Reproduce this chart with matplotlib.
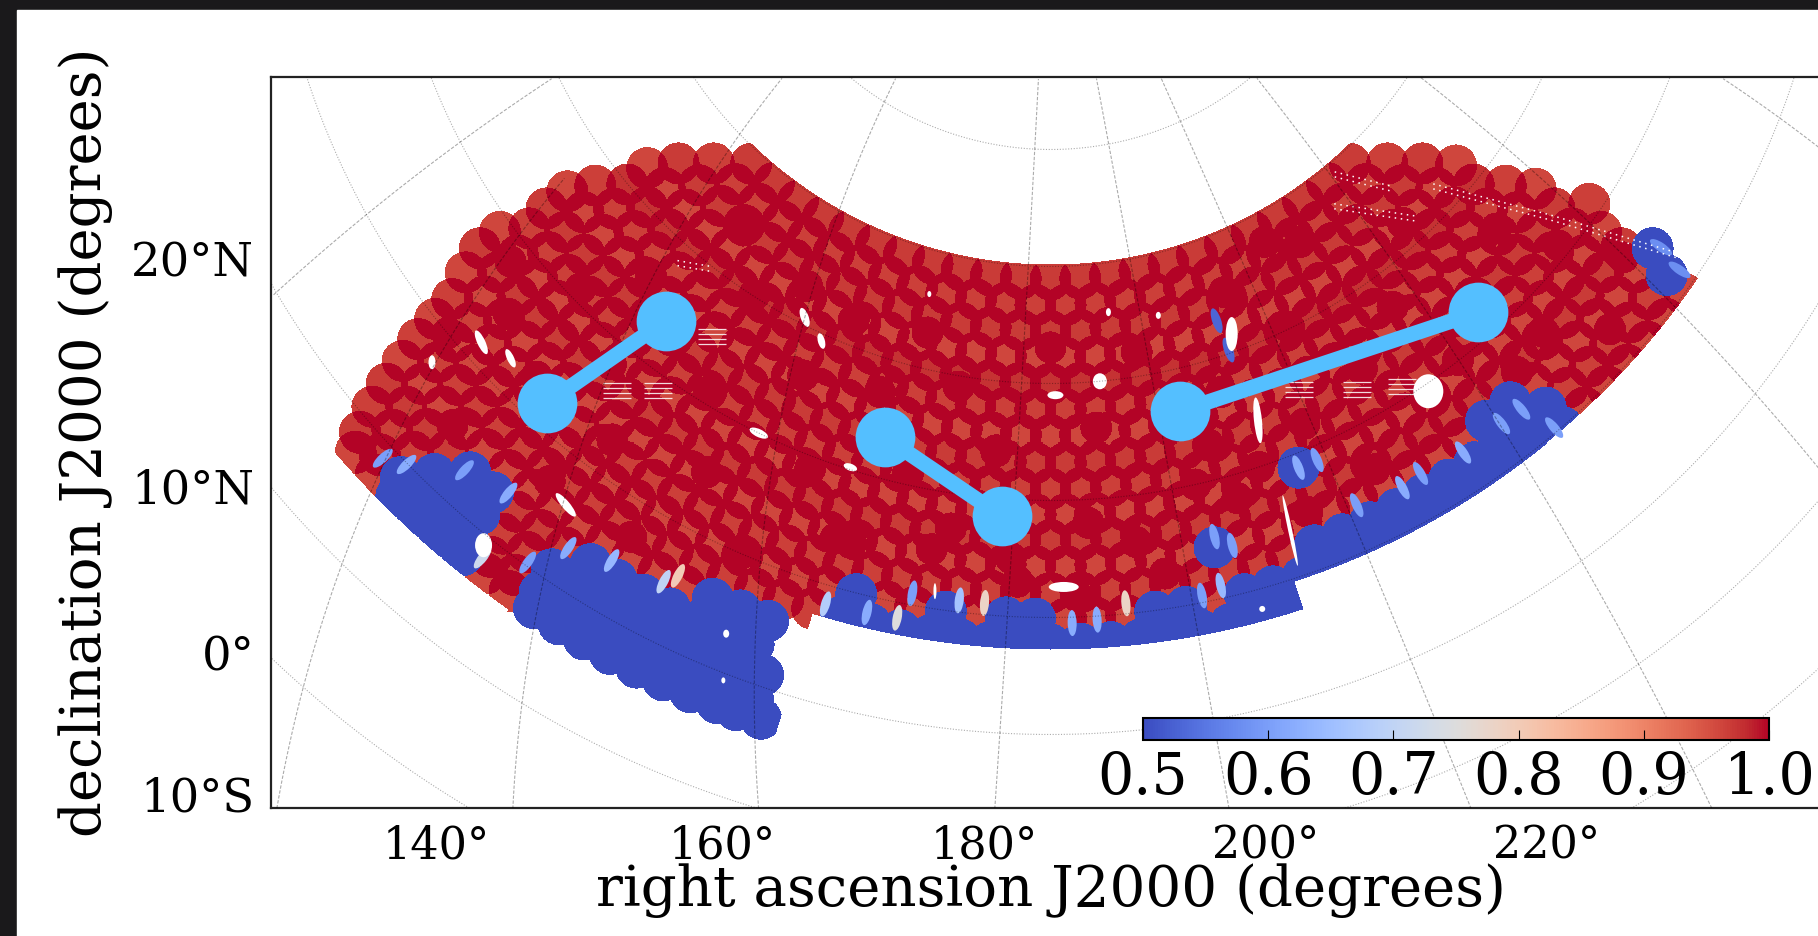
import numpy as np
import matplotlib
matplotlib.use('Agg')
import matplotlib.pyplot as plt
from matplotlib.patches import Ellipse, Rectangle

plt.rcParams['font.family'] = ['DejaVu Serif']

# survey plates, one list of ra per row of constant declination
row_dec = [58.8, 56.6, 54.4, 52.1, 49.9, 47.7, 45.5, 43.2, 41.0, 38.8,
           36.6, 34.4, 32.1, 29.9, 27.7, 25.5, 23.2, 21.0, 18.8, 17.4]
row_level = [0.97, 0.965, 0.97, 0.96, 0.975, 0.965, 0.96, 0.97, 0.965, 0.96,
             0.97, 0.96, 0.965, 0.96, 0.965, 0.96, 0.97, 0.965, 0.97, 0.96]
row_ra = [
    [117.9, 124, 130.1, 136.2, 142.3, 148.4, 154.5, 160.6, 166.7, 172.8, 178.9, 185, 191.1, 197.2, 203.3, 209.4,
     215.5, 221.6, 227.7, 233.8, 239.9, 246, 252.1],
    [112.5, 118.3, 124.1, 129.9, 135.7, 141.5, 147.3, 153.1, 158.9, 164.7, 170.5, 176.3, 182.1, 187.9, 193.7, 199.5,
     205.3, 211.1, 216.9, 222.7, 228.5, 234.3, 240.1, 245.9, 251.7, 257.5],
    [108, 113.5, 119, 124.5, 130, 135.5, 141, 146.5, 152, 157.5, 163, 168.5, 174, 179.5, 185, 190.5, 196, 201.5, 207,
     212.5, 218, 223.5, 229, 234.5, 240, 245.5, 251, 256.5, 262],
    [105, 109.6, 114.8, 120, 125.2, 130.4, 135.6, 140.8, 146, 151.2, 156.4, 161.6, 166.8, 172, 177.2, 182.4, 187.6,
     192.8, 198, 203.2, 208.4, 213.6, 218.8, 224, 229.2, 234.4, 239.6, 244.8, 250, 255.2, 260.4, 265.6],
    [105, 110, 115, 120, 125, 130, 135, 140, 145, 150, 155, 160, 165, 170, 175, 180, 185, 190, 195, 200, 205, 210,
     215, 220, 225, 230, 235, 240, 245, 250, 255, 260, 265],
    [101.9, 106.6, 111.4, 116.1, 120.9, 125.6, 130.4, 135.1, 139.9, 144.6, 149.4, 154.1, 158.9, 163.6, 168.4, 173.1,
     177.9, 182.6, 187.4, 192.1, 196.9, 201.6, 206.4, 211.1, 215.9, 220.6, 225.4, 230.1, 234.9, 239.6, 244.4, 249.1,
     253.9, 258.6, 263.4, 268.1],
    [100, 104, 108.5, 113, 117.5, 122, 126.5, 131, 135.5, 140, 144.5, 149, 153.5, 158, 162.5, 167, 171.5, 176, 180.5,
     185, 189.5, 194, 198.5, 203, 207.5, 212, 216.5, 221, 225.5, 230, 234.5, 239, 243.5, 248, 252.5, 257, 261.5, 266,
     270.5],
    [100.2, 104.5, 108.9, 113.2, 117.6, 121.9, 126.3, 130.6, 135, 139.3, 143.7, 148, 152.4, 156.7, 161.1, 165.4,
     169.8, 174.1, 178.5, 182.8, 187.2, 191.5, 195.9, 200.2, 204.6, 208.9, 213.3, 217.6, 222, 226.3, 230.7, 235,
     239.4, 243.7, 248.1, 252.4, 256.8, 261.1, 265.5, 269.8],
    [101, 105.2, 109.4, 113.6, 117.8, 122, 126.2, 130.4, 134.6, 138.8, 143, 147.2, 151.4, 155.6, 159.8, 164, 168.2,
     172.4, 176.6, 180.8, 185, 189.2, 193.4, 197.6, 201.8, 206, 210.2, 214.4, 218.6, 222.8, 227, 231.2, 235.4, 239.6,
     243.8, 248, 252.2, 256.4, 260.6, 264.8, 269, 273.2],
    [99, 103, 107, 111, 115, 119, 123, 127, 131, 135, 139, 143, 147, 151, 155, 159, 163, 167, 171, 175, 179, 183,
     187, 191, 195, 199, 203, 207, 211, 215, 219, 223, 227, 231, 235, 239, 243, 247, 251, 255, 259, 263, 267, 271],
    [99.2, 103.1, 107, 110.9, 114.8, 118.7, 122.6, 126.5, 130.4, 134.3, 138.2, 142.1, 146, 149.9, 153.8, 157.7,
     161.6, 165.5, 169.4, 173.3, 177.2, 181.1, 185, 188.9, 192.8, 196.7, 200.6, 204.5, 208.4, 212.3, 216.2, 220.1,
     224, 227.9, 231.8, 235.7, 239.6, 243.5, 247.4, 251.3, 255.2, 259.1, 263, 266.9, 270.8],
    [100.6, 104.4, 108.1, 111.9, 115.6, 119.4, 123.1, 126.9, 130.6, 134.4, 138.1, 141.9, 145.6, 149.4, 153.1, 156.9,
     160.6, 164.4, 168.1, 171.9, 175.6, 179.4, 183.1, 186.9, 190.6, 194.4, 198.1, 201.9, 205.6, 209.4, 213.1, 216.9,
     220.6, 224.4, 228.1, 231.9, 235.6, 239.4, 243.1, 246.9, 250.6, 254.4, 258.1, 261.9, 265.6, 269.4, 273.1],
    [102.2, 105.8, 109.4, 113, 116.6, 120.2, 123.8, 127.4, 131, 134.6, 138.2, 141.8, 145.4, 149, 152.6, 156.2, 159.8,
     163.4, 167, 170.6, 174.2, 177.8, 181.4, 185, 188.6, 192.2, 195.8, 199.4, 203, 206.6, 210.2, 213.8, 217.4, 221,
     224.6, 228.2, 231.8, 235.4, 239, 242.6, 246.2, 249.8, 253.4, 257, 260.6, 264.2, 267.8, 271.4],
    [102.8, 106.2, 109.8, 113.2, 116.8, 120.2, 123.8, 127.2, 130.8, 134.2, 137.8, 141.2, 144.8, 148.2, 151.8, 155.2,
     158.8, 162.2, 165.8, 169.2, 172.8, 176.2, 179.8, 183.2, 186.8, 190.2, 193.8, 197.2, 200.8, 204.2, 207.8, 211.2,
     214.8, 218.2, 221.8, 225.2, 228.8, 232.2, 235.8, 239.2, 242.8, 246.2, 249.8, 253.2, 256.8, 260.2, 263.8, 267.2,
     270.8],
    [103.4, 106.8, 110.2, 113.6, 117, 120.4, 123.8, 127.2, 130.6, 134, 137.4, 140.8, 144.2, 147.6, 151, 154.4, 157.8,
     161.2, 164.6, 168, 171.4, 174.8, 178.2, 181.6, 185, 188.4, 191.8, 195.2, 198.6, 202, 205.4, 208.8, 212.2],
    [104.2, 107.5, 110.8, 114.1, 117.4, 120.7, 124, 127.3, 130.6, 133.9, 137.2, 140.5, 143.8, 147.1, 150.4, 153.6],
    [105, 108.2, 111.4, 114.6, 117.8, 121, 124.2, 127.4, 130.6, 133.8, 137, 140.2, 143.4, 146.6, 149.8, 153],
    [105.9, 109, 112.1, 115.2, 118.3, 121.4, 124.5, 127.6, 130.7, 133.8, 136.9, 140, 143.1, 146.2, 149.3, 152.4,
     155],
    [107, 110, 113, 116, 119, 122, 125, 128, 131, 134, 137, 140, 143, 146, 149, 152, 154.8],
    [108.2, 111.1, 114, 116.9, 119.8, 122.7, 125.6, 128.5, 131.4, 134.3, 137.2, 140.1, 143, 145.9, 148.8, 151.6,
     153.6, 156.2],
]

# extra plates where the coverage is denser than the regular rows
extra_ra = [125, 133, 118, 127, 140, 112, 122, 135, 146, 150, 108, 116, 128, 140, 152, 158, 163,
            170, 177, 185, 192, 200, 208, 172, 181, 190, 199, 210, 165, 158, 148, 136, 125, 113, 105, 103,
            218, 226, 235, 242, 252, 262, 222, 233, 245, 256, 266, 228, 250, 262, 270, 218, 212, 229,
            160, 170, 180, 188, 196, 205, 214]
extra_dec = [54, 50, 46, 44, 53, 41, 38, 41, 46, 52, 35, 33, 33, 35, 39, 47, 53,
             49, 44, 53, 46, 52, 43, 37, 33, 38, 33, 38, 41, 34, 30, 27, 27, 25, 30, 38,
             55, 50, 56, 47, 52, 46, 42, 44, 40, 37, 41, 36, 36, 33, 36, 35, 47, 57.5,
             34, 35, 35, 32, 36, 40, 40]

# low completeness plates: row index and ra range
blue_row = [19, 19, 18, 18, 17, 17, 16, 16, 15, 14, 13, 13, 13, 13, 13, 13, 12, 12, 11, 11, 11, 9]
blue_lo = [113, 131, 112, 131, 115, 130, 117, 133, 147, 159.5, 160, 171, 178, 195, 206, 214, 214, 271, 243, 273, 205,
           218.5]
blue_hi = [124, 157, 122, 156, 122, 156, 122, 157, 157, 213, 164, 174, 185, 202, 213, 253, 253, 272, 248, 274, 206,
           219.5]

# lens shaped overlaps on the blue edge
lens_ra = [110.4, 112.5, 117.2, 122.3, 124.4, 128.3, 130.9, 135.5, 141.5, 142.6, 159.1, 163.9, 167.4, 168.6, 174.2,
           177.2, 187.5, 190.4, 193.9, 202.9, 205.3, 205.9, 207.8, 219, 221.7, 224, 230, 232.8, 238.6, 244.5, 247.5,
           249.1, 273.9, 272.9, 215, 215.3]
lens_dec = [18.8, 19.9, 23.0, 24, 18.3, 20.3, 23.3, 24.4, 25, 26, 28.4, 28.6, 28.7, 31, 31, 31, 29.5, 29.7, 30.9,
            30.6, 31.1, 35.3, 34.2, 38.8, 38.8, 33.9, 33.5, 33.8, 33.4, 33.5, 33.4, 30.4, 33.9, 31.5, 53, 50.3]
lens_val = [0.6, 0.62, 0.6, 0.62, 0.72, 0.6, 0.62, 0.64, 0.7, 0.8, 0.68, 0.62, 0.75, 0.6, 0.66, 0.78, 0.62, 0.62,
            0.78, 0.6, 0.64, 0.6, 0.6, 0.62, 0.6, 0.6, 0.62, 0.6, 0.62, 0.6, 0.6, 0.6, 0.58, 0.58, 0.53, 0.53]

# holes in the coverage: ra, dec, size in pixels and tilt
hole_ra = [123.7, 239.3, 106.3, 108.3, 112.1, 128, 216.7, 216, 193.2, 185.8, 142.1, 146.3, 143.7, 157.1, 186.6, 171.2,
           149.9, 151.4, 209.3, 215.2, 161.5, 196, 205.1]
hole_dec = [19.2, 39.4, 27.4, 31.7, 32.6, 26.2, 51.5, 43.8, 50, 49, 50.6, 49.4, 40, 40.2, 32.6, 31.5, 23.2, 19.4,
            28.3, 34, 56.3, 55.8, 54.8]
hole_w = [17, 30, 7, 8, 7, 8, 12, 8, 14, 16, 8, 7, 20, 14, 30, 3, 6, 4, 6, 4, 4, 5, 5]
hole_h = [24, 34, 14, 26, 20, 30, 34, 46, 16, 8, 20, 16, 8, 7, 10, 16, 8, 6, 6, 72, 6, 8, 7]
hole_tilt = [0, 0, 0, -25, -25, -40, 0, -6, 0, 0, -20, -15, 25, 20, 0, 0, 0, 0, 0, -12, 0, 0, 0]

# groups of white stripes
stripe_ra = [124.8, 129, 131, 223.3, 231, 236.6]
stripe_dec = [36.6, 38.7, 45.1, 44.9, 42.7, 40.9]
dotted_ra = [260.7, 268.8, 274.5]
dotted_dec = [52.6, 43.2, 32.3]
dotted2_ra = [244.7, 254.5]
dotted2_dec = [57.1, 51.8]
dotted3_ra = [248.8, 255.2]
dotted3_dec = [59.2, 55]
dotted4_ra = [119.5, 124.5]
dotted4_dec = [48.5, 50]

# graticule
parallels = [-10, 0, 10, 20, 30, 40, 50, 60, 70]
mer_ra0 = [90.7, 123.9, 139.1, 158.5, 179.8, 201.5, 222.1, 239.3, 265.2, 292.8]
mer_dec0 = [19.7, -9.4, 1.8, 10, 13.5, 12.3, 6.2, -3.7, 11.8, 26]
mer_ra1 = [83.4, 98, 109, 133.4, 180.5, 202, 223.9, 249.1, 275.2, 296.3]
mer_dec1 = [49.4, 46, 65.9, 72.2, 76, 75.7, 74, 69.6, 59, 35.7]

# the three light blue dumbbells
pair_ra = [[119, 124], [160.6, 178.5], [205.2, 251.5]]
pair_dec = [[32, 43.9], [43.5, 38.5], [46.4, 42.1]]

ra_labels = ['140°', '160°', '180°', '200°', '220°']
dec_labels = ['20°N', '10°N', '0°', '10°S']
cbar_ticks = [0.5, 0.6, 0.7, 0.8, 0.9, 1.0]


def sky_xy(ra, dec):
    r = 1133 - 11.7 * np.asarray(dec, dtype=float)
    t = np.radians(0.63 * (np.asarray(ra, dtype=float) - 185))
    return 1050 + r * np.sin(t), -165 + r * np.cos(t)


# completeness image on the pixel grid of the axes
xs = np.arange(271, 1830)
ys = np.arange(77, 808)
gx, gy = np.meshgrid(xs, ys)
red_n = np.zeros(gx.shape, dtype=int)
blue_n = np.zeros(gx.shape, dtype=int)
level = np.zeros(gx.shape)


def add_plate(ra, dec, is_blue, val, radius):
    px, py = sky_xy(ra, dec)
    x0 = max(int(px - radius - 271), 0)
    x1 = min(int(px + radius - 271) + 2, len(xs))
    y0 = max(int(py - radius - 77), 0)
    y1 = min(int(py + radius - 77) + 2, len(ys))
    if x0 >= x1 or y0 >= y1:
        return
    hit = (gx[y0:y1, x0:x1] - px)**2 + (gy[y0:y1, x0:x1] - py)**2 <= radius**2
    if is_blue:
        blue_n[y0:y1, x0:x1] += hit
    else:
        red_n[y0:y1, x0:x1] += hit
        level[y0:y1, x0:x1][hit] = val


for i, ras in enumerate(row_ra):
    for ra in ras:
        is_blue = False
        for b in range(len(blue_row)):
            if blue_row[b] == i and blue_lo[b] <= ra <= blue_hi[b]:
                is_blue = True
        add_plate(ra, row_dec[i], is_blue, row_level[i], 21)

for ra, dec in zip(extra_ra, extra_dec):
    add_plate(ra, dec, False, 0.97, 16)

value = np.full(gx.shape, np.nan)
value[red_n == 1] = level[red_n == 1]
value[red_n >= 2] = 1.0
value[blue_n >= 1] = 0.5

# smooth survey limits
rr = np.hypot(gx - 1050, gy + 165)
tt = np.degrees(np.arctan2(gx - 1050, gy + 165))
outside = rr < 430
outside |= (tt < -35) & (rr > 945)
outside |= (tt >= -17) & (tt < 18.1) & (rr > 814)
outside |= (tt >= 18.1) & (rr > 785)
value[outside] = np.nan

fig = plt.figure(figsize=(18.18, 9.36), dpi=100, facecolor='#1a191b')
fig.add_artist(Rectangle((17 / 1818, 0), 1, 926 / 936, transform=fig.transFigure, color='white', zorder=-5))

ax = fig.add_axes([271 / 1818, (936 - 808) / 936, 1559 / 1818, 731 / 936], facecolor='white')
cmap = plt.get_cmap('coolwarm').copy()
cmap.set_bad((1, 1, 1, 0))
im = ax.imshow(np.ma.masked_invalid(value), cmap=cmap, vmin=0.5, vmax=1.0, aspect='auto', origin='upper',
               extent=[270.5, 1829.5, 807.5, 76.5], interpolation='nearest', zorder=1)

for ra, dec, val in zip(lens_ra, lens_dec, lens_val):
    px, py = sky_xy(ra, dec)
    ang = -0.63 * (ra - 185)
    ax.add_patch(Ellipse((px, py), 9, 26, angle=ang, color=cmap((val - 0.5) / 0.5), lw=0, zorder=2))

for ra, dec, w, h, tilt in zip(hole_ra, hole_dec, hole_w, hole_h, hole_tilt):
    px, py = sky_xy(ra, dec)
    ax.add_patch(Ellipse((px, py), w, h, angle=tilt, color='white', lw=0, zorder=3))

for ra, dec in zip(stripe_ra, stripe_dec):
    px, py = sky_xy(ra, dec)
    ax.hlines(py + np.array([-8, -3, 2, 7]), px - 14, px + 14, colors='white', lw=0.9, alpha=0.85, zorder=3)

for d_ra, d_dec in [(dotted_ra, dotted_dec), (dotted2_ra, dotted2_dec), (dotted3_ra, dotted3_dec),
                    (dotted4_ra, dotted4_dec)]:
    for off in [0, 5]:
        px, py = sky_xy(d_ra, d_dec)
        ax.plot(px, py + off, color='white', lw=1.1, ls=(0, (1, 3)), zorder=3)

# graticule, straight in ra and dec
t_line = np.linspace(70, 300, 400)
for dec in parallels:
    px, py = sky_xy(t_line, np.full(t_line.shape, dec))
    ax.plot(px, py, color='black', alpha=0.33, lw=0.8, ls=(0, (1, 1.5)), zorder=4)
for r0, d0, r1, d1 in zip(mer_ra0, mer_dec0, mer_ra1, mer_dec1):
    f = np.linspace(0, 1, 60)
    px, py = sky_xy(r0 + f * (r1 - r0), d0 + f * (d1 - d0))
    ax.plot(px, py, color='black', alpha=0.33, lw=0.8, ls=(0, (3, 1.5)), zorder=4)

for ras, decs in zip(pair_ra, pair_dec):
    px, py = sky_xy(ras, decs)
    ax.plot(px, py, color='#54bfff', lw=11, solid_capstyle='butt', zorder=5)
    ax.plot(px, py, 'o', color='#54bfff', ms=43, mew=0, zorder=5)

ax.set_xlim(270.5, 1829.5)
ax.set_ylim(807.5, 76.5)
ax.set_xticks([436, 722, 984, 1265, 1546])
ax.set_xticklabels(ra_labels, fontsize=32)
ax.set_yticks([258, 485, 652, 793])
ax.set_yticklabels(dec_labels, fontsize=33.5)
ax.tick_params(length=0, pad=12)
for s in ax.spines.values():
    s.set_linewidth(1.6)
    s.set_color('#222222')

ax.set_xlabel('right ascension J2000 (degrees)', fontsize=40.5)
ax.xaxis.set_label_coords(0.5, -0.076)
ax.set_ylabel('declination J2000 (degrees)', fontsize=40.5)
ax.yaxis.set_label_coords(-0.1014, 0.5)

cax = fig.add_axes([1143 / 1818, (936 - 740) / 936, 626 / 1818, 22 / 936])
cb = fig.colorbar(im, cax=cax, orientation='horizontal', ticks=cbar_ticks)
cb.ax.tick_params(direction='in', length=7, width=0.8, labelsize=41, pad=7)
cb.ax.set_xticklabels(['0.5', '0.6', '0.7', '0.8', '0.9', '1.0'])
cb.outline.set_linewidth(1.5)

fig.savefig('out.png', dpi=100)
